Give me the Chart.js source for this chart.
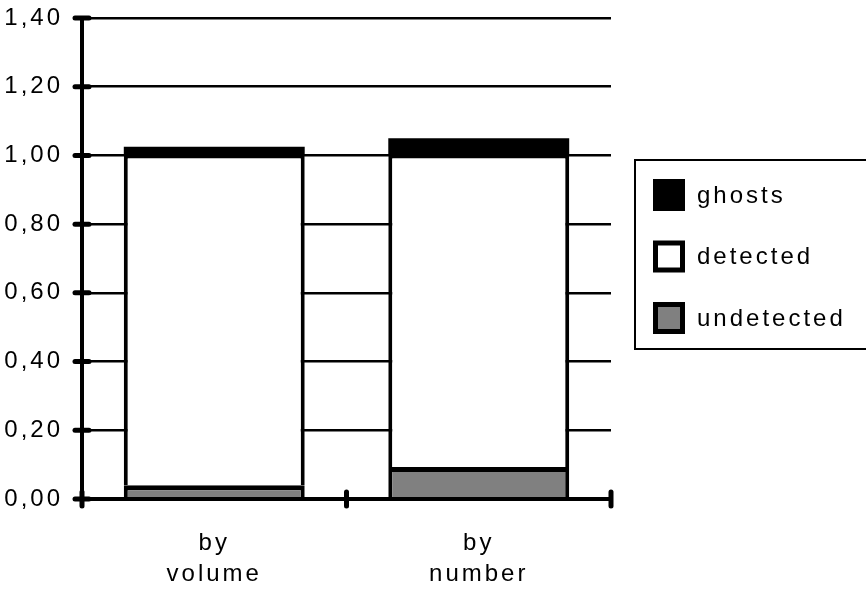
<!DOCTYPE html>
<html>
<head>
<meta charset="utf-8">
<script src="https://cdn.jsdelivr.net/npm/chart.js@4/dist/chart.umd.min.js"></script>
<style>
  html, body { margin: 0; padding: 0; background: #ffffff; }
  canvas { display: block; }
</style>
</head>
<body>
<canvas id="chart" width="866" height="589"></canvas>
<script>
// Categories (two-line axis labels)
const categories = [["by", "volume"], ["by", "number"]];

// Stacked series, bottom to top
const undetected = [0.04, 0.093];
const detected   = [0.96, 0.907];
const ghosts     = [0.025, 0.05];

// Value axis ticks
const yTicks = [0, 0.2, 0.4, 0.6, 0.8, 1.0, 1.2, 1.4];

const FONT = '"Liberation Sans", Arial, sans-serif';
const SPACING = '3px';

// Axis lines and the short tick marks that cross them
const axesPlugin = {
  id: 'crossAxes',
  beforeLayout(chart) {
    chart.ctx.letterSpacing = SPACING;
  },
  beforeDraw(chart) {
    chart.ctx.letterSpacing = SPACING;
  },
  afterDatasetsDraw(chart) {
    const { ctx, chartArea: a, scales: { x, y } } = chart;
    const top = y.getPixelForValue(yTicks[yTicks.length - 1]);
    const bottom = y.getPixelForValue(0);
    ctx.save();
    ctx.strokeStyle = '#000';
    ctx.lineCap = 'butt';
    ctx.lineWidth = 4;
    ctx.beginPath();
    ctx.moveTo(a.left, top);
    ctx.lineTo(a.left, bottom);
    ctx.moveTo(a.left, bottom);
    ctx.lineTo(a.right, bottom);
    ctx.stroke();

    ctx.lineWidth = 5;
    ctx.lineCap = 'round';
    yTicks.forEach(v => {
      const py = y.getPixelForValue(v);
      ctx.beginPath();
      ctx.moveTo(a.left - 7, py);
      ctx.lineTo(a.left + 7, py);
      ctx.stroke();
    });
    const n = categories.length;
    for (let i = 0; i <= n; i++) {
      const px = x.left + (x.right - x.left) * i / n;
      ctx.beginPath();
      ctx.moveTo(px, bottom - 7);
      ctx.lineTo(px, bottom + 7);
      ctx.stroke();
    }
    ctx.restore();
  }
};

// Boxed legend on the right, listing the series top-down
const legendPlugin = {
  id: 'boxLegend',
  afterDraw(chart) {
    const { ctx, chartArea: a } = chart;
    const items = chart.data.datasets.slice().reverse();
    const left = a.right + 24;
    const top = 160;
    ctx.save();
    ctx.letterSpacing = SPACING;
    ctx.strokeStyle = '#000';
    ctx.lineWidth = 2;
    ctx.strokeRect(left, top, 260, 189);
    items.forEach((d, i) => {
      const cy = top + 35 + i * 61.5;
      const sx = left + 18;
      ctx.fillStyle = '#000';
      ctx.fillRect(sx, cy - 16, 32, 32);
      ctx.fillStyle = d.backgroundColor;
      ctx.fillRect(sx + 5, cy - 11, 22, 22);
      ctx.fillStyle = '#000';
      ctx.font = '24px ' + FONT;
      ctx.textBaseline = 'middle';
      ctx.textAlign = 'left';
      ctx.fillText(d.label, left + 62, cy + 1);
    });
    ctx.restore();
  }
};

const common = {
  borderColor: '#000',
  borderSkipped: false,
  barPercentage: 0.684,
  categoryPercentage: 1.0,
  inflateAmount: 0
};

new Chart(document.getElementById('chart'), {
  type: 'bar',
  data: {
    labels: categories,
    datasets: [
      Object.assign({
        label: 'undetected',
        data: undetected,
        backgroundColor: '#808080',
        borderWidth: { top: 5, bottom: 0, left: 4, right: 4 }
      }, common),
      Object.assign({
        label: 'detected',
        data: detected,
        backgroundColor: '#ffffff',
        borderWidth: { top: 3, bottom: 0, left: 4, right: 4 }
      }, common),
      Object.assign({
        label: 'ghosts',
        data: ghosts,
        backgroundColor: '#000000',
        borderWidth: 0
      }, common)
    ]
  },
  options: {
    responsive: false,
    animation: false,
    devicePixelRatio: 1,
    layout: { padding: { top: 18, right: 255, left: 0, bottom: 0 } },
    plugins: {
      legend: { display: false },
      tooltip: { enabled: false }
    },
    scales: {
      x: {
        stacked: true,
        afterFit: s => { s.height = 90; s.paddingLeft = 0; s.paddingRight = 0; },
        grid: { display: false },
        border: { display: false },
        ticks: {
          color: '#000',
          padding: 21,
          maxRotation: 0,
          font: { family: FONT, size: 24, lineHeight: 1.28 }
        }
      },
      y: {
        stacked: true,
        min: 0,
        max: 1.4,
        afterFit: s => { s.width = 82; s.paddingTop = 0; s.paddingBottom = 0; },
        afterBuildTicks: s => { s.ticks = yTicks.map(v => ({ value: v })); },
        grid: { color: '#000', lineWidth: 2.5, drawTicks: false },
        border: { display: false },
        ticks: {
          color: '#000',
          padding: 19,
          font: { family: FONT, size: 24 },
          callback: v => Number(v).toFixed(2).replace('.', ',')
        }
      }
    }
  },
  plugins: [axesPlugin, legendPlugin]
});
</script>
</body>
</html>
